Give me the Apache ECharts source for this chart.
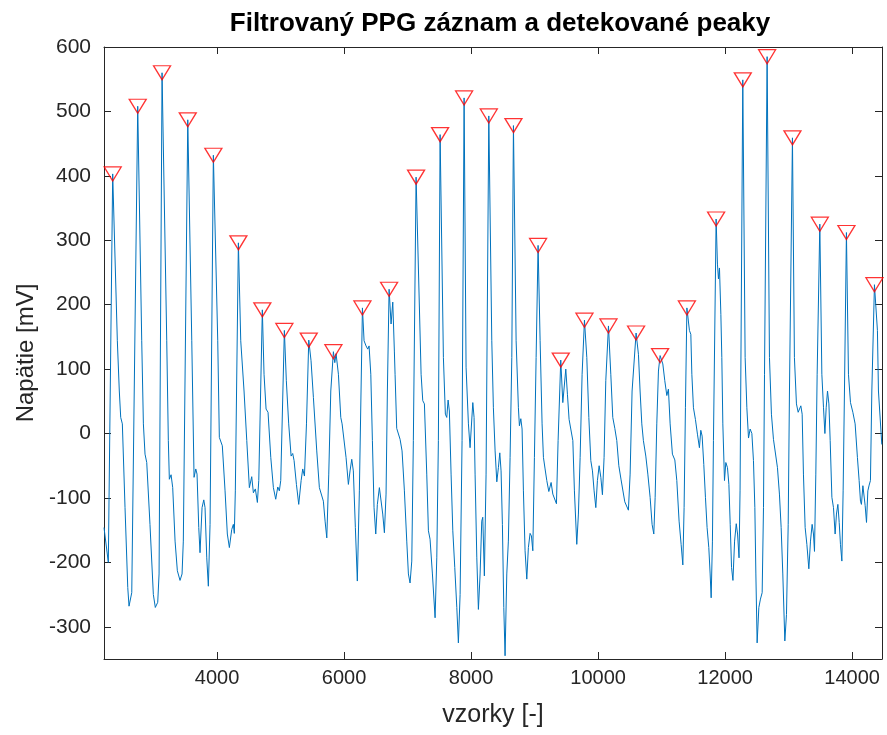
<!DOCTYPE html>
<html><head><meta charset="utf-8">
<script src="https://cdn.jsdelivr.net/npm/echarts@6/dist/echarts.min.js"></script>
<style>html,body{margin:0;padding:0;background:#fff}#c{width:887px;height:735px}</style>
</head><body><div id="c"></div>
<script>
const signalX = [2220,2288,2357,2430,2461,2483,2509,2551,2594,2614,2657,2677,
2751,2814,2840,2866,2893,2944,2997,3028,3066,3087,
3134,3208,3233,3249,3276,3302,3339,3375,3417,3449,3469,
3539,3602,3638,3665,3685,3712,3732,3764,3791,3811,3838,3863,3890,
3942,4011,4036,4083,4126,4162,4194,4231,4257,4272,4288,
4336,4373,4425,4468,4509,4546,4572,4603,4635,4657,
4713,4740,4772,4803,4846,4887,4924,4956,4981,5003,
5060,5091,5128,5166,5191,5213,5250,5286,5324,5349,5376,5408,
5444,5480,5517,5570,5611,5638,5674,5701,5728,5759,5791,
5832,5854,5874,5911,5948,5969,5995,6031,6068,6094,6121,6146,6178,6209,6241,
6289,6315,6346,6373,6394,6421,6446,6472,6499,6524,6556,6583,6609,6635,6661,6682,
6709,6740,6767,6792,6803,6829,6855,6882,6913,6950,6987,7013,7039,7066,7091,
7134,7213,7239,7265,7302,7328,7354,7391,7433,7460,7485,
7512,7564,7595,7617,7638,7658,7685,7712,7743,7775,7800,7827,7858,
7890,7921,7958,7984,8027,8047,8063,8090,8115,8142,8168,8184,8209,8236,
8279,8326,8351,8378,8405,8430,8452,8472,8493,8515,8535,8562,8587,8614,8641,
8667,8709,8745,8761,8783,8803,8824,8850,8877,8902,8929,8950,8972,8997,9024,
9055,9087,9118,9139,9165,9192,9224,9260,9287,9318,9344,9370,
9412,9444,9491,9517,9543,9570,9602,9627,9664,9690,9717,9748,
9785,9822,9854,9885,9911,9937,9964,9989,10016,10043,10068,10094,10121,
10163,10200,10231,10263,10294,10326,10362,10389,10420,10446,10477,10504,10535,
10598,10635,10661,10688,10713,10751,10783,10819,10850,10877,10898,10924,10950,
10976,11019,11050,11082,11107,11134,11170,11208,11239,11275,11307,11334,11354,11375,
11398,11438,11460,11476,11501,11532,11564,11595,11617,11638,11664,11690,11716,11743,11764,11780,11800,11816,
11858,11879,11895,11911,11933,11948,11964,11990,12011,12037,12059,12080,12101,12123,12149,12175,12196,12219,12235,
12278,12315,12342,12368,12394,12421,12446,12468,12484,12504,12531,12556,12583,12604,12620,
12661,12698,12729,12761,12792,12824,12855,12882,12908,12940,12966,12993,13013,
13060,13091,13123,13150,13170,13192,13213,13233,13260,13287,13318,13344,13370,13391,13407,13428,13449,
13491,13523,13549,13571,13591,13612,13634,13654,13681,13706,13732,13753,13775,13796,13816,13838,13858,13879,
13910,13942,13974,14011,14047,14083,14110,14131,14146,14169,14189,14205,14226,14247,14268,14288,14310,
14351,14398,14414,14467];
const signalY = [-146,-200,403,144,66,25,15,-115,-239,-268,-247,-244,
508,144,15,-32,-45,-141,-250,-270,-262,-218,
560,144,-11,-71,-64,-84,-167,-213,-228,-218,-167,
487,144,-68,-55,-63,-146,-185,-115,-103,-115,-193,-237,-141,
432,144,-6,-19,-89,-156,-177,-149,-141,-155,-89,
296,144,66,-11,-84,-67,-92,-86,-107,-73,
192,92,38,33,-37,-84,-102,-83,-89,-73,
160,82,15,-35,-31,-42,-79,-110,-73,-55,-66,15,
145,113,56,-27,-84,-86,-105,-136,-162,-63,66,
127,110,124,92,25,15,16,-37,-79,-58,-40,-58,-146,-229,-89,
195,144,136,131,136,92,-11,-115,-156,-110,-84,-86,-125,-154,-94,66,
224,170,204,128,92,8,5,-9,-27,-89,-167,-218,-232,-198,-11,
398,92,51,46,-63,-151,-164,-218,-286,-193,-11,
464,118,30,25,52,35,-63,-151,-208,-270,-325,-250,-11,
521,103,15,-22,48,25,-63,-193,-273,-218,-136,-130,-221,-63,
493,144,40,-27,-75,-53,-30,-58,-141,-270,-345,-218,-167,-37,118,
478,144,40,12,23,7,-89,-182,-226,-177,-155,-159,-182,-37,118,
292,144,15,-37,-55,-73,-90,-76,-94,-97,-109,-11,
114,48,100,61,22,20,-11,-89,-172,-125,-37,92,
176,118,25,-42,-58,-89,-115,-73,-50,-68,-95,-37,82,
167,92,25,8,-11,-50,-72,-73,-106,-107,-119,-63,66,
156,123,66,15,-11,-35,-63,-99,-141,-156,-99,15,97,
121,108,82,59,69,15,-32,-41,-73,-136,-172,-204,-115,40,
195,160,154,92,40,22,-1,-22,5,-4,-48,-99,-146,-177,-218,-255,-167,-11,
333,263,240,257,185,118,15,-73,-45,-53,-79,-141,-208,-228,-167,-140,-156,-193,-89,
549,118,40,-7,7,0,-42,-115,-218,-325,-270,-257,-247,-115,92,
585,118,30,-9,-12,-53,-94,-146,-218,-322,-281,-141,66,
459,118,46,33,30,43,30,-63,-146,-172,-210,-167,-141,-156,-183,-63,92,
325,92,40,0,40,66,46,-11,-99,-115,-156,-125,-110,-138,-172,-198,-89,66,
312,92,48,33,15,-37,-73,-105,-110,-81,-84,-112,-138,-89,-80,-73,66,
231,160,66,-17];
const peakX = [2357,2751,3134,3539,3942,4336,4713,5060,5444,5832,6289,6709,7134,7512,7890,8279,8667,9055,9412,9785,10163,10598,10976,11398,11858,12278,12661,13060,13491,13910,14351];
const peakY = [403,508,560,487,432,296,192,160,145,127,195,224,398,464,521,493,478,292,114,176,167,156,121,195,333,549,585,459,325,312,231];
const xTicks = [4000,6000,8000,10000,12000,14000];
const yTicks = [-300,-200,-100,0,100,200,300,400,500,600];
const xMin = 2220, xMax = 14470, yMin = -350, yMax = 600;

const chart = echarts.init(document.getElementById('c'), null, {renderer:'canvas'});
const axisCol = '#262626';
const fontFam = '"Liberation Sans", Arial, Helvetica, sans-serif';
function xAx(pos, labels){
  return {type:'value', position:pos, min:xMin, max:xMax,
    axisLine:{show:true, onZero:false, lineStyle:{color:axisCol, width:1}},
    axisTick:{show:true, inside:true, length:7, customValues:xTicks, lineStyle:{color:axisCol}},
    axisLabel:{show:labels, customValues:xTicks, color:axisCol, fontSize:20, fontFamily:fontFam, margin:9,
      formatter: v => String(v)},
    splitLine:{show:false},
    name: labels ? 'vzorky [-]' : '', nameLocation:'middle', nameGap:44,
    nameTextStyle:{color:axisCol, fontSize:25, fontFamily:fontFam}};
}
function yAx(pos, labels){
  return {type:'value', position:pos, min:yMin, max:yMax,
    axisLine:{show:true, onZero:false, lineStyle:{color:axisCol, width:1}},
    axisTick:{show:true, inside:true, length:7, customValues:yTicks, lineStyle:{color:axisCol}},
    axisLabel:{show:labels, customValues:yTicks, color:axisCol, fontSize:21, fontFamily:fontFam, margin:13,
      formatter: v => String(v)},
    splitLine:{show:false},
    name: labels ? 'Napätie [mV]' : '', nameLocation:'middle', nameGap:64,
    nameTextStyle:{color:axisCol, fontSize:24, fontFamily:fontFam}};
}
chart.setOption({
  animation:false,
  backgroundColor:'#ffffff',
  title:{text:'Filtrovaný PPG záznam a detekované peaky', left:495, textAlign:'center', top:6,
    textStyle:{color:'#000', fontSize:26, fontWeight:'bold', fontFamily:fontFam}},
  grid:{left:104, right:5, top:47, bottom:76, containLabel:false},
  xAxis:[xAx('bottom', true), xAx('top', false)],
  yAxis:[yAx('left', true), yAx('right', false)],
  series:[
    {type:'line', xAxisIndex:0, yAxisIndex:0, data:signalX.map((x,i)=>[x, signalY[i]]),
     showSymbol:false, symbol:'none', lineStyle:{color:'#0072BD', width:1}, clip:true, z:2},
    {type:'scatter', xAxisIndex:0, yAxisIndex:0, data:peakX.map((x,i)=>[x, peakY[i]]),
     symbol:'triangle', symbolRotate:180, symbolSize:[17,14],
     itemStyle:{color:'rgba(0,0,0,0)', borderColor:'#FF0000', borderWidth:1.3}, z:3}
  ]
});
</script></body></html>
